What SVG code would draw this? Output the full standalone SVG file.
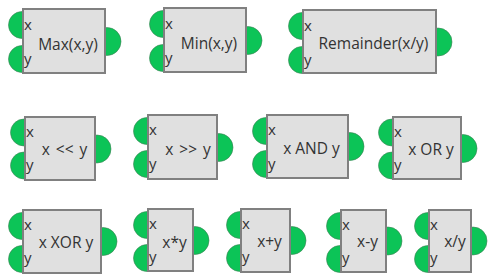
<svg xmlns="http://www.w3.org/2000/svg" width="496" height="278" viewBox="0 0 496 278">
<style>
.port{fill:#0cc457;stroke:#3f7f55;stroke-width:0.6}
.box{fill:#e0e0e0;stroke:#808080;stroke-width:2}
.pl{font-family:"Open Sans","Noto Sans","Liberation Sans",sans-serif;font-size:15px;fill:#333}
.lbl{font-family:"Open Sans","Noto Sans","Liberation Sans",sans-serif;font-size:15.5px;fill:#333;text-anchor:middle}
.ws{word-spacing:2px}
</style>
<rect width="496" height="278" fill="#ffffff"/>
<g id="connectors"/>
<g id="max" transform="translate(22,8)">
<circle class="port" cx="0" cy="17" r="13.5"/><circle class="port" cx="0" cy="51" r="13.5"/><circle class="port" cx="85" cy="33.5" r="14"/>
<rect class="box" x="1" y="1" width="82" height="64"/>
<text class="pl" x="2" y="21.5">x</text><text class="pl" x="2" y="55.5">y</text>
<text class="lbl" x="46" y="41.5">Max(x,y)</text>
</g>
<g id="min" transform="translate(163,7)">
<circle class="port" cx="0" cy="17" r="13.5"/><circle class="port" cx="0" cy="51" r="13.5"/><circle class="port" cx="85" cy="33.5" r="14"/>
<rect class="box" x="1" y="1" width="82" height="64"/>
<text class="pl" x="2" y="21.5">x</text><text class="pl" x="2" y="55.5">y</text>
<text class="lbl" x="46" y="42">Min(x,y)</text>
</g>
<g id="remainder" transform="translate(302,9)">
<circle class="port" cx="0" cy="17" r="13.5"/><circle class="port" cx="0" cy="51" r="13.5"/><circle class="port" cx="136" cy="33" r="14"/>
<rect class="box" x="1" y="1" width="133" height="63"/>
<text class="pl" x="2" y="21.5">x</text><text class="pl" x="2" y="55.5">y</text>
<text class="lbl" x="71.5" y="40">Remainder(x/y)</text>
</g>
<g id="shl" transform="translate(24,116)">
<circle class="port" cx="0" cy="16.5" r="13.5"/><circle class="port" cx="0" cy="49.5" r="13.5"/><circle class="port" cx="73" cy="33" r="14"/>
<rect class="box" x="1" y="1" width="70" height="63"/>
<text class="pl" x="2" y="21">x</text><text class="pl" x="2" y="54">y</text>
<text class="lbl ws" x="40.5" y="39">x &lt;&lt; y</text>
</g>
<g id="shr" transform="translate(147,114)">
<circle class="port" cx="0" cy="17" r="13.5"/><circle class="port" cx="0" cy="50" r="13.5"/><circle class="port" cx="72" cy="33.5" r="14"/>
<rect class="box" x="1" y="1" width="69" height="64"/>
<text class="pl" x="2" y="21">x</text><text class="pl" x="2" y="55">y</text>
<text class="lbl ws" x="41" y="41">x &gt;&gt; y</text>
</g>
<g id="and" transform="translate(266,114)">
<circle class="port" cx="0" cy="17" r="13.5"/><circle class="port" cx="0" cy="50" r="13.5"/><circle class="port" cx="84" cy="32.5" r="14"/>
<rect class="box" x="1" y="1" width="81" height="63"/>
<text class="pl" x="2" y="21">x</text><text class="pl" x="2" y="55">y</text>
<text class="lbl" x="45.5" y="40">x AND y</text>
</g>
<g id="or" transform="translate(392,116)">
<circle class="port" cx="0" cy="16.5" r="13.5"/><circle class="port" cx="0" cy="49.5" r="13.5"/><circle class="port" cx="71" cy="32.5" r="14"/>
<rect class="box" x="1" y="1" width="68" height="62"/>
<text class="pl" x="2" y="21">x</text><text class="pl" x="2" y="54">y</text>
<text class="lbl" x="39" y="39">x OR y</text>
</g>
<g id="xor" transform="translate(22,209)">
<circle class="port" cx="0" cy="17" r="13.5"/><circle class="port" cx="0" cy="50" r="13.5"/><circle class="port" cx="81" cy="32.5" r="14"/>
<rect class="box" x="1" y="1" width="78" height="63"/>
<text class="pl" x="2" y="21">x</text><text class="pl" x="2" y="54">y</text>
<text class="lbl" x="44" y="38.5">x XOR y</text>
</g>
<g id="mul" transform="translate(147,208)">
<circle class="port" cx="0" cy="17" r="13.5"/><circle class="port" cx="0" cy="50" r="13.5"/><circle class="port" cx="48" cy="32.5" r="14"/>
<rect class="box" x="1" y="1" width="45" height="62"/>
<text class="pl" x="2" y="21">x</text><text class="pl" x="2" y="54">y</text>
<text class="lbl" x="27.5" y="39.5">x*y</text>
</g>
<g id="add" transform="translate(240,208)">
<circle class="port" cx="0" cy="17" r="13.5"/><circle class="port" cx="0" cy="50" r="13.5"/><circle class="port" cx="52" cy="32.5" r="14"/>
<rect class="box" x="1" y="1" width="49" height="63"/>
<text class="pl" x="2" y="21">x</text><text class="pl" x="2" y="54">y</text>
<text class="lbl" x="29.5" y="38.7">x+y</text>
</g>
<g id="sub" transform="translate(340,209)">
<circle class="port" cx="0" cy="17" r="13.5"/><circle class="port" cx="0" cy="50" r="13.5"/><circle class="port" cx="48" cy="32" r="14"/>
<rect class="box" x="1" y="1" width="45" height="62"/>
<text class="pl" x="2" y="21">x</text><text class="pl" x="2" y="54">y</text>
<text class="lbl" x="27.5" y="38">x-y</text>
</g>
<g id="div" transform="translate(428,209)">
<circle class="port" cx="0" cy="17" r="13.5"/><circle class="port" cx="0" cy="50" r="13.5"/><circle class="port" cx="45" cy="32" r="14"/>
<rect class="box" x="1" y="1" width="42" height="62"/>
<text class="pl" x="2" y="21">x</text><text class="pl" x="2" y="54">y</text>
<text class="lbl" x="27" y="38">x/y</text>
</g>
</svg>
